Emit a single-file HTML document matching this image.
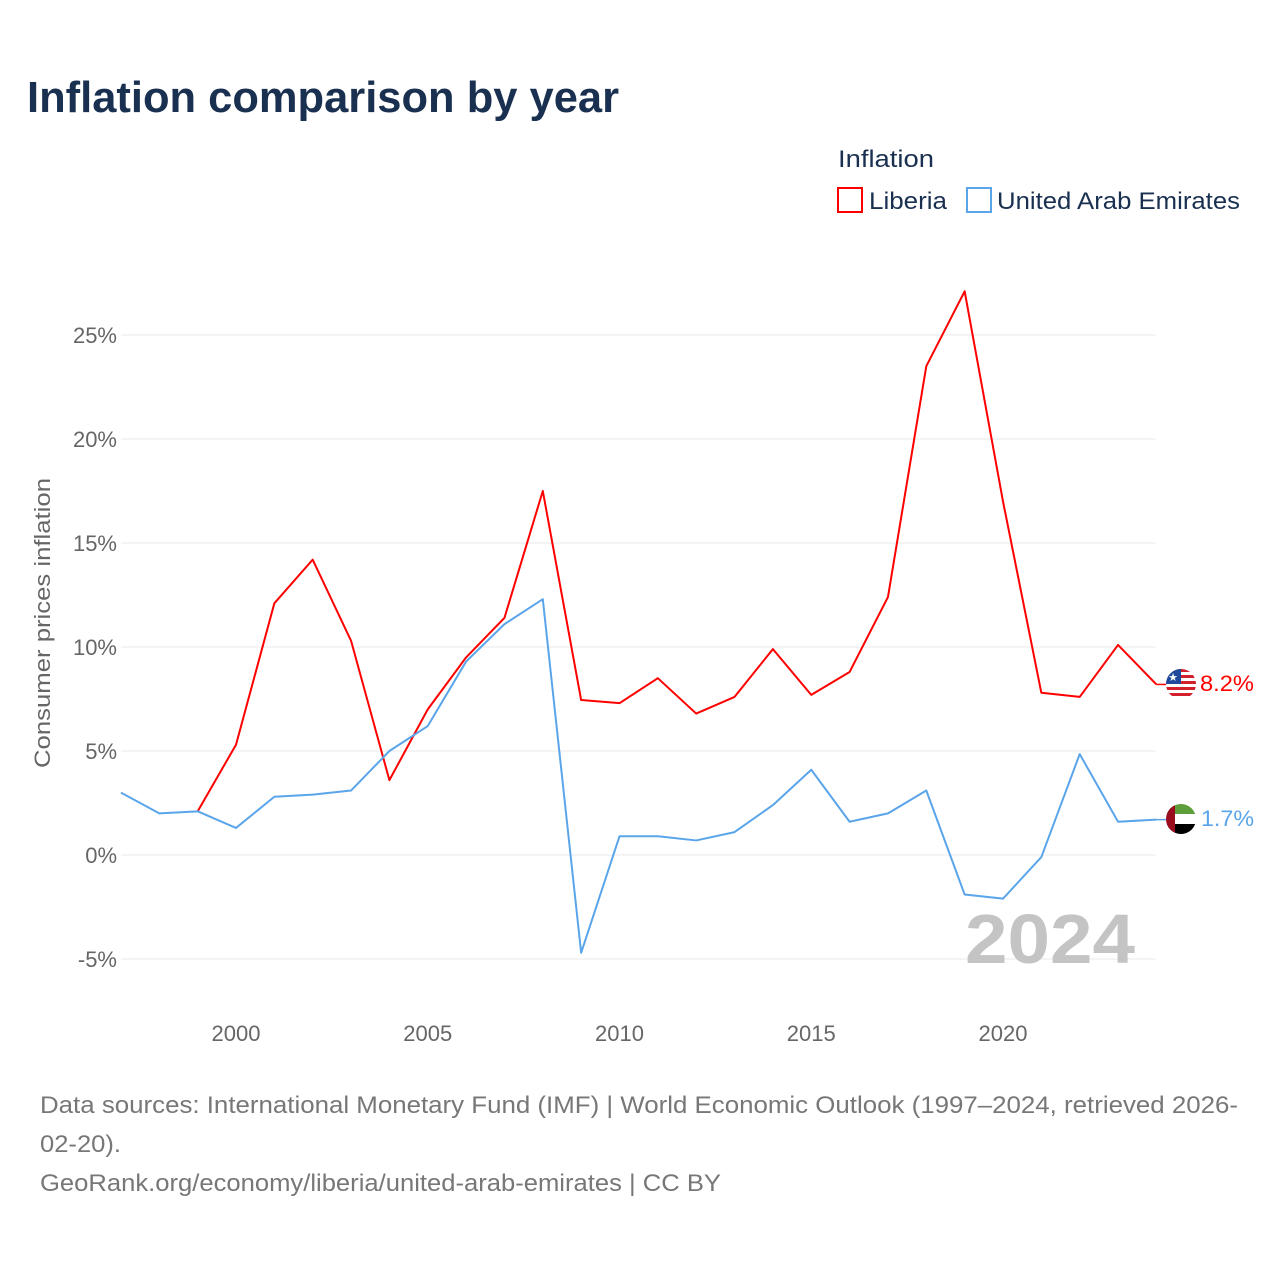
<!DOCTYPE html>
<html><head><meta charset="utf-8"><style>
body{margin:0;background:#fff;width:1280px;height:1280px;overflow:hidden;font-family:"Liberation Sans",sans-serif}
svg text{font-family:"Liberation Sans",sans-serif}
</style></head><body>
<svg id="c" width="1280" height="1280" xmlns="http://www.w3.org/2000/svg">
<text x="27" y="112" font-size="44" font-weight="bold" fill="#1a3050" textLength="592" lengthAdjust="spacingAndGlyphs">Inflation comparison by year</text>
<text x="838" y="167" font-size="24" fill="#1a3050" textLength="96" lengthAdjust="spacingAndGlyphs">Inflation</text>
<g><rect x="838" y="188" width="24" height="24" fill="none" stroke="#f00" stroke-width="2"/><text x="869" y="209" font-size="24" fill="#1a3050" textLength="78" lengthAdjust="spacingAndGlyphs">Liberia</text></g>
<g><rect x="967" y="188" width="24" height="24" fill="none" stroke="#5aa5ea" stroke-width="2"/><text x="997" y="209" font-size="24" fill="#1a3050" textLength="243" lengthAdjust="spacingAndGlyphs">United Arab Emirates</text></g>
<text transform="translate(50,623) rotate(-90)" text-anchor="middle" font-size="22" fill="#666" textLength="290" lengthAdjust="spacingAndGlyphs">Consumer prices inflation</text>
<g id="grid"></g><g id="xt"></g>
<text x="1135" y="963" text-anchor="end" font-size="70" font-weight="bold" fill="#c4c4c4" textLength="170" lengthAdjust="spacingAndGlyphs">2024</text>
<g id="lines"></g>
<g>
<clipPath id="cl"><circle cx="1181" cy="684" r="15"/></clipPath>
<g clip-path="url(#cl)"><rect x="1166" y="669" width="30" height="30" fill="#fff"/>
<rect x="1166" y="669" width="30" height="3" fill="#d2202d"/><rect x="1166" y="675" width="30" height="3" fill="#d2202d"/><rect x="1166" y="681" width="30" height="3" fill="#d2202d"/><rect x="1166" y="687" width="30" height="3" fill="#d2202d"/><rect x="1166" y="693" width="30" height="3" fill="#d2202d"/>
<rect x="1166" y="669" width="15" height="15" fill="#1f4a9c"/><text x="1173" y="681" font-size="11" fill="#fff" text-anchor="middle">★</text></g></g>
<g>
<clipPath id="cu"><circle cx="1181" cy="819" r="15"/></clipPath>
<g clip-path="url(#cu)"><rect x="1166" y="804" width="30" height="10" fill="#5e9e3a"/><rect x="1166" y="814" width="30" height="10" fill="#fff"/><rect x="1166" y="824" width="30" height="10" fill="#000"/><rect x="1166" y="804" width="9" height="30" fill="#9a0d1e"/></g></g>
<text x="1200" y="691" font-size="22" fill="#f00" textLength="54" lengthAdjust="spacingAndGlyphs">8.2%</text>
<text x="1201" y="826" font-size="22" fill="#5aa5ea" textLength="53" lengthAdjust="spacingAndGlyphs">1.7%</text>
<text x="40" y="1113" font-size="24" fill="#777" textLength="1198" lengthAdjust="spacingAndGlyphs">Data sources: International Monetary Fund (IMF) | World Economic Outlook (1997–2024, retrieved 2026-</text>
<text x="40" y="1152" font-size="24" fill="#777" textLength="81" lengthAdjust="spacingAndGlyphs">02-20).</text>
<text x="40" y="1191" font-size="24" fill="#777" textLength="681" lengthAdjust="spacingAndGlyphs">GeoRank.org/economy/liberia/united-arab-emirates | CC BY</text>
</svg>
<script>
const years=[1997,1998,1999,2000,2001,2002,2003,2004,2005,2006,2007,2008,2009,2010,2011,2012,2013,2014,2015,2016,2017,2018,2019,2020,2021,2022,2023,2024];
const liberia=[null,null,2.1,5.3,12.1,14.2,10.3,3.6,7.0,9.5,11.4,17.5,7.45,7.3,8.5,6.8,7.6,9.9,7.7,8.8,12.4,23.5,27.1,17.0,7.8,7.6,10.1,8.2];
const uae=[3.0,2.0,2.1,1.3,2.8,2.9,3.1,5.0,6.2,9.3,11.1,12.3,-4.7,0.9,0.9,0.7,1.1,2.4,4.1,1.6,2.0,3.1,-1.9,-2.1,-0.1,4.85,1.6,1.7];
const yTicks=[-5,0,5,10,15,20,25];
const xTicks=[2000,2005,2010,2015,2020];
const NS='http://www.w3.org/2000/svg';
const X=v=>236+(v-2000)*38.35, Y=v=>855-v*20.8;
function mk(t,a,p){const e=document.createElementNS(NS,t);for(const k in a)e.setAttribute(k,a[k]);p.appendChild(e);return e;}
const g=document.getElementById('grid'),xt=document.getElementById('xt'),L=document.getElementById('lines');
yTicks.forEach(v=>{
 const l=mk('line',{x1:121,x2:1156,y1:Y(v),y2:Y(v),stroke:'#e8e8e8','stroke-width':1},g);
 
 
 const t=mk('text',{x:117,y:Y(v)+8,'text-anchor':'end','font-size':22,fill:'#666'},g);
 
 
 t.textContent=v+'%';
});
xTicks.forEach(v=>{
 const t=mk('text',{x:X(v),y:1041,'text-anchor':'middle','font-size':22,fill:'#666'},xt);
 
 
 t.textContent=v;
});
function line(vals,col,name){
 const pts=[];vals.forEach((v,i)=>{if(v!==null)pts.push(X(years[i])+','+Y(v));});
 const p=mk('polyline',{points:pts.join(' '),fill:'none',stroke:col,'stroke-width':2,'stroke-linejoin':'round'},L);
 
 
 const lv=vals[vals.length-1];
 mk('line',{x1:X(2024),x2:1166,y1:Y(lv),y2:Y(lv),stroke:col,'stroke-width':1.5},L);
}
line(liberia,'#f00','liberia-line');
line(uae,'#5aa5ea','uae-line');
</script>
</body></html>
